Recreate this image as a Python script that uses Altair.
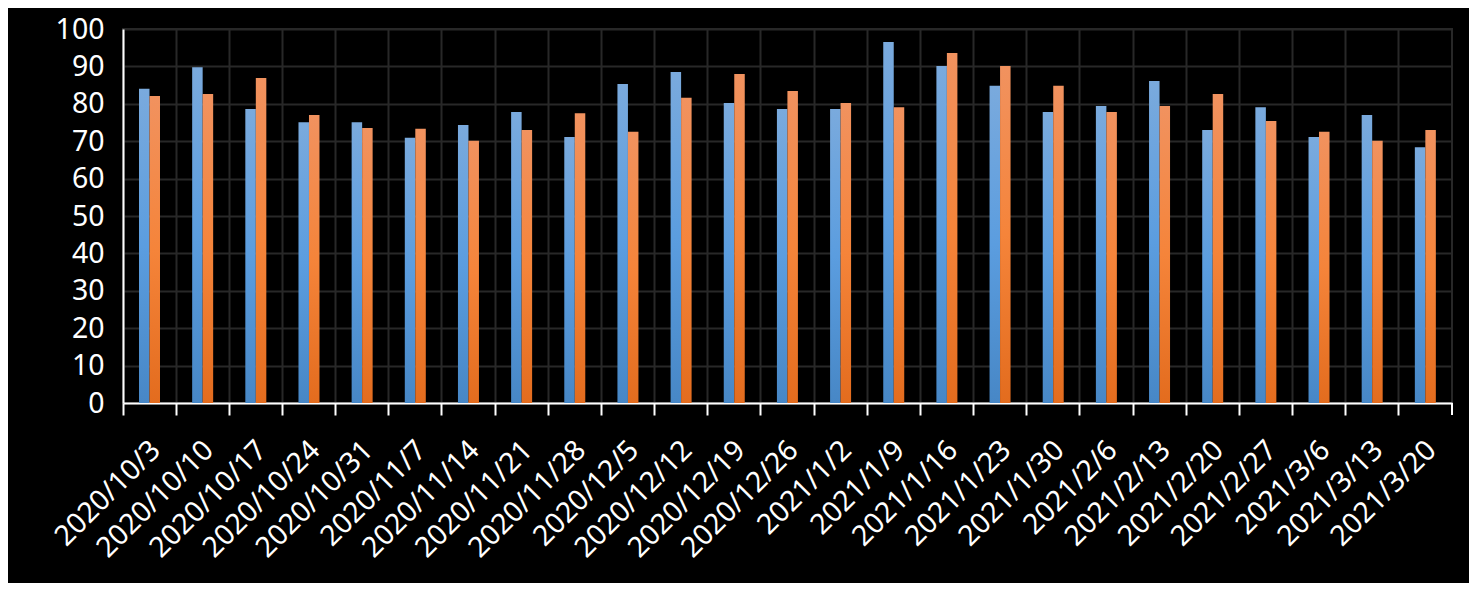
import altair as alt
import pandas as pd

categories = ["2020/10/3", "2020/10/10", "2020/10/17", "2020/10/24", "2020/10/31",
              "2020/11/7", "2020/11/14", "2020/11/21", "2020/11/28", "2020/12/5",
              "2020/12/12", "2020/12/19", "2020/12/26", "2021/1/2", "2021/1/9",
              "2021/1/16", "2021/1/23", "2021/1/30", "2021/2/6", "2021/2/13",
              "2021/2/20", "2021/2/27", "2021/3/6", "2021/3/13", "2021/3/20"]
series_a = [84.0, 89.8, 78.6, 75.1, 75.1, 70.9, 74.3, 77.8, 71.1, 85.3,
            88.5, 80.2, 78.6, 78.6, 96.5, 90.1, 84.8, 77.8, 79.4, 86.1,
            73.0, 79.1, 71.1, 77.0, 68.4]
series_b = [82.1, 82.6, 86.9, 77.0, 73.5, 73.3, 70.1, 73.0, 77.5, 72.5,
            81.6, 88.0, 83.4, 80.2, 79.1, 93.6, 90.1, 84.8, 77.8, 79.4,
            82.6, 75.4, 72.5, 70.1, 73.0]
series_names = ["A", "B"]

rows = []
for c, a, b in zip(categories, series_a, series_b):
    rows.append({"date": c, "series": series_names[0], "value": a})
    rows.append({"date": c, "series": series_names[1], "value": b})
df = pd.DataFrame(rows)

W, H = 1329, 374
GRID = "#282828"
FONT = "Noto Sans"

x_enc = alt.X("date:N", sort=categories,
              scale=alt.Scale(paddingInner=0, paddingOuter=0),
              axis=alt.Axis(title=None, bandPosition=0, labelAngle=315,
                            labelAlign="right", labelBaseline="middle",
                            labelFontSize=28.5, labelFont=FONT, labelColor="white",
                            labelPadding=30, labelOffset=6, labelOverlap=False,
                            domainColor="white", domainWidth=2,
                            tickColor="white", tickWidth=2, tickSize=12,
                            grid=True, gridColor=GRID, gridWidth=2))
xoff = alt.XOffset("series:N", scale=alt.Scale(domain=series_names, range=[16, 37]))
y_enc = alt.Y("value:Q", scale=alt.Scale(domain=[0, 100], nice=False),
              axis=alt.Axis(title=None, values=list(range(0, 101, 10)),
                            labelFontSize=28.5, labelFont=FONT, labelColor="white",
                            labelPadding=19, ticks=False,
                            domainColor="white", domainWidth=2,
                            grid=True, gridColor=GRID, gridWidth=2))

blue = alt.Gradient(gradient="linear", x1=0, x2=0, y1=0, y2=1,
                    stops=[alt.GradientStop(color="#7aaadd", offset=0),
                           alt.GradientStop(color="#5b9ddf", offset=0.5),
                           alt.GradientStop(color="#4787c6", offset=1)])
orange = alt.Gradient(gradient="linear", x1=0, x2=0, y1=0, y2=1,
                      stops=[alt.GradientStop(color="#f1925f", offset=0),
                             alt.GradientStop(color="#f5843a", offset=0.5),
                             alt.GradientStop(color="#e36c1e", offset=1)])

base = alt.Chart(df)
bars_a = base.transform_filter(alt.datum.series == "A").mark_bar(color=blue).encode(
    x=x_enc, xOffset=xoff, y=y_enc)
bars_b = base.transform_filter(alt.datum.series == "B").mark_bar(color=orange).encode(
    x=x_enc, xOffset=xoff, y=y_enc)

end_tick = alt.Chart(pd.DataFrame({"k": [0]})).mark_rule(color="white", strokeWidth=2).encode(
    x=alt.value(W), y=alt.value(H), y2=alt.value(H + 12))

chart = alt.layer(bars_a, bars_b, end_tick).properties(
    width=W, height=H, background="black",
    autosize=alt.AutoSizeParams(type="none"),
    padding={"left": 115, "top": 21, "right": 17, "bottom": 180}
).configure_view(stroke=GRID, strokeWidth=2)

chart.save("out.html", embed_options={"renderer": "svg", "actions": False})
